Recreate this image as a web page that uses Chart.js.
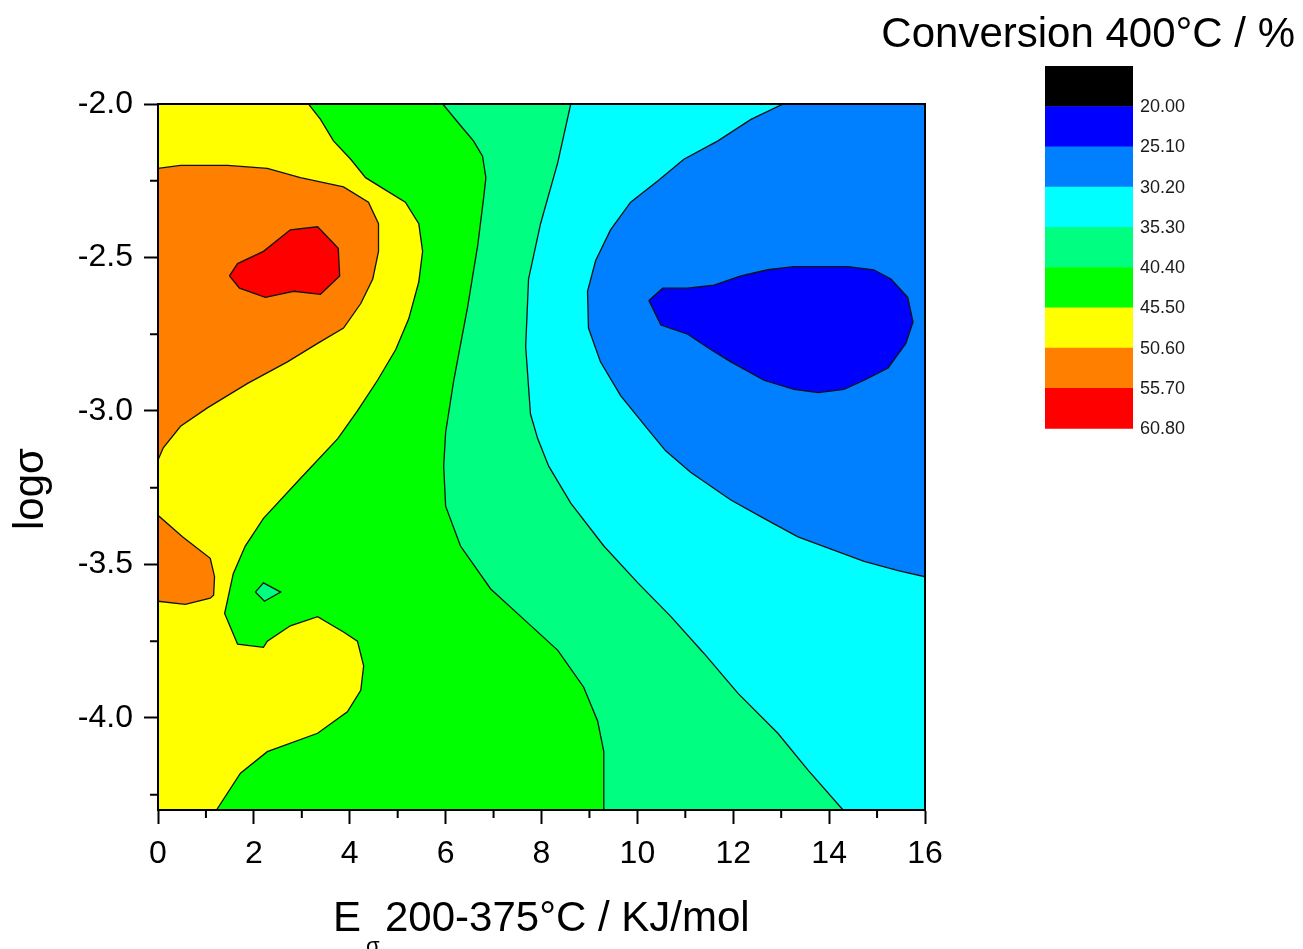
<!DOCTYPE html>
<html lang="en">
<head>
<meta charset="UTF-8">
<title>Conversion 400°C contour</title>
<style>
  body { margin: 0; padding: 0; background: #fff; }
  .chart-box { position: relative; width: 1303px; height: 949px; }
</style>
<script src="https://cdn.jsdelivr.net/npm/chart.js"></script>
</head>
<body>
<div class="chart-box"><canvas id="contourChart"></canvas></div>
<script>
// contour levels (conversion %) and colour of each band, lowest first
const levels = [20.00, 25.10, 30.20, 35.30, 40.40, 45.50, 50.60, 55.70, 60.80];
const bandColors = ['#000000', '#0000FF', '#0080FF', '#00FFFF', '#00FF80', '#00FF00', '#FFFF00', '#FF8000', '#FF0000'];

// axis ranges and ticks
const xRange = [0, 16];
const yRange = [-4.3, -2.0];
const xTicks = [0, 2, 4, 6, 8, 10, 12, 14, 16];
const xMinorTicks = [1, 3, 5, 7, 9, 11, 13, 15];
const yTicks = [-2.0, -2.5, -3.0, -3.5, -4.0];
const yMinorTicks = [-2.25, -2.75, -3.25, -3.75, -4.25];

// contour lines (x = E, y = log sigma)
// 25.1 % : closed island on the right
const c251X = [10.24, 10.53, 11.05, 11.60, 12.16, 12.72, 13.27, 13.83, 14.39, 14.93, 15.29, 15.64, 15.75, 15.60, 15.23, 14.73, 14.31, 13.77, 13.27, 12.64, 11.95, 11.53, 11.05, 10.49];
const c251Y = [-2.64, -2.60, -2.60, -2.59, -2.56, -2.54, -2.53, -2.53, -2.53, -2.54, -2.57, -2.63, -2.71, -2.78, -2.86, -2.90, -2.93, -2.94, -2.93, -2.90, -2.84, -2.80, -2.75, -2.72];
// 30.2 % : top edge -> right edge
const c302X = [13.04, 12.37, 11.68, 10.97, 10.43, 9.86, 9.44, 9.13, 8.96, 8.98, 9.23, 9.65, 10.22, 10.59, 11.11, 11.95, 12.64, 13.35, 14.04, 14.73, 15.44, 16.00];
const c302Y = [-2.00, -2.05, -2.12, -2.18, -2.25, -2.32, -2.41, -2.51, -2.61, -2.73, -2.84, -2.95, -3.06, -3.13, -3.20, -3.29, -3.35, -3.41, -3.45, -3.49, -3.52, -3.54];
// 35.3 % : top edge -> bottom edge
const c353X = [8.61, 8.34, 7.98, 7.73, 7.67, 7.77, 7.92, 8.15, 8.61, 9.30, 10.01, 10.70, 11.39, 12.10, 12.93, 13.56, 14.29];
const c353Y = [-2.00, -2.19, -2.39, -2.57, -2.79, -3.01, -3.09, -3.18, -3.30, -3.44, -3.56, -3.67, -3.79, -3.92, -4.05, -4.17, -4.30];
// 40.4 % : top edge -> bottom edge, plus a small island
const c404X = [5.94, 6.31, 6.58, 6.77, 6.84, 6.79, 6.67, 6.46, 6.17, 6.00, 5.96, 6.00, 6.31, 6.94, 7.57, 8.34, 8.88, 9.17, 9.30, 9.30];
const c404Y = [-2.00, -2.07, -2.12, -2.17, -2.24, -2.31, -2.46, -2.66, -2.90, -3.07, -3.18, -3.31, -3.44, -3.58, -3.67, -3.78, -3.90, -4.01, -4.11, -4.30];
const c404bX = [2.03, 2.20, 2.56, 2.22];
const c404bY = [-3.59, -3.56, -3.59, -3.62];
// 45.5 % : top edge -> bottom edge
const c455X = [3.14, 3.39, 3.66, 4.02, 4.33, 4.64, 5.16, 5.44, 5.52, 5.44, 5.23, 4.96, 4.58, 4.16, 3.75, 2.97, 2.20, 1.82, 1.57, 1.39, 1.66, 2.20, 2.28, 2.76, 3.33, 3.87, 4.16, 4.29, 4.23, 3.95, 3.33, 2.28, 1.72, 1.22];
const c455Y = [-2.00, -2.05, -2.12, -2.18, -2.24, -2.27, -2.32, -2.39, -2.48, -2.58, -2.70, -2.80, -2.90, -3.00, -3.09, -3.22, -3.35, -3.44, -3.53, -3.66, -3.76, -3.77, -3.75, -3.70, -3.67, -3.72, -3.75, -3.83, -3.91, -3.98, -4.05, -4.11, -4.18, -4.30];
// 50.6 % : two lobes on the left edge
const c506X = [0, 0.47, 1.45, 2.28, 2.97, 3.87, 4.39, 4.60, 4.60, 4.48, 4.23, 3.87, 3.33, 2.70, 1.87, 1.03, 0.47, 0.11, 0];
const c506Y = [-2.21, -2.20, -2.20, -2.21, -2.24, -2.27, -2.32, -2.39, -2.48, -2.57, -2.65, -2.73, -2.78, -2.84, -2.91, -2.99, -3.05, -3.12, -3.16];
const c506bX = [0, 0.51, 1.09, 1.18, 1.16, 1.09, 0.57, 0];
const c506bY = [-3.34, -3.41, -3.48, -3.54, -3.60, -3.61, -3.63, -3.62];
// 55.7 % : island
const c557X = [1.49, 1.66, 2.20, 2.76, 3.33, 3.76, 3.79, 3.39, 2.83, 2.24, 1.70];
const c557Y = [-2.56, -2.52, -2.48, -2.41, -2.40, -2.47, -2.56, -2.62, -2.61, -2.63, -2.60];

const fontName = "'Liberation Sans', Arial, sans-serif";

function toPoints(xs, ys) {
  return xs.map((x, i) => ({ x: x, y: ys[i] }));
}
function closed(pts) {
  return pts.concat([pts[0]]);
}
function region(pts, color, order, lineWidth) {
  return {
    data: pts,
    showLine: true,
    fill: 'shape',
    backgroundColor: color,
    borderColor: '#111',
    borderWidth: lineWidth,
    pointRadius: 0,
    pointHoverRadius: 0,
    tension: 0,
    order: order
  };
}

const cornerTL = { x: xRange[0], y: yRange[1] };
const cornerTR = { x: xRange[1], y: yRange[1] };
const cornerBR = { x: xRange[1], y: yRange[0] };
const cornerBL = { x: xRange[0], y: yRange[0] };

const datasets = [
  region([cornerTL, cornerTR, cornerBR, cornerBL], bandColors[5], 20, 0),
  region(toPoints(c404X, c404Y).concat([cornerBR, cornerTR]), bandColors[4], 19, 1.3),
  region(toPoints(c353X, c353Y).concat([cornerBR, cornerTR]), bandColors[3], 18, 1.3),
  region(toPoints(c302X, c302Y).concat([cornerTR]), bandColors[2], 17, 1.3),
  region(closed(toPoints(c251X, c251Y)), bandColors[1], 16, 1.3),
  region(toPoints(c455X, c455Y).concat([cornerBL, cornerTL]), bandColors[6], 15, 1.3),
  region(toPoints(c506X, c506Y), bandColors[7], 14, 1.3),
  region(toPoints(c506bX, c506bY), bandColors[7], 13, 1.3),
  region(closed(toPoints(c557X, c557Y)), bandColors[8], 12, 1.3),
  region(closed(toPoints(c404bX, c404bY)), bandColors[4], 11, 1.3)
];

// frame, minor ticks, axis titles, colour scale
const decorations = {
  id: 'decorations',
  afterDraw(chart) {
    const ctx = chart.ctx;
    const area = chart.chartArea;
    const xs = chart.scales.x;
    const ys = chart.scales.y;
    ctx.save();
    ctx.strokeStyle = '#000';
    ctx.lineWidth = 2;
    ctx.strokeRect(area.left, area.top, area.right - area.left, area.bottom - area.top);

    ctx.beginPath();
    xMinorTicks.forEach(v => {
      const px = xs.getPixelForValue(v);
      ctx.moveTo(px, area.bottom);
      ctx.lineTo(px, area.bottom + 8);
    });
    yMinorTicks.forEach(v => {
      const py = ys.getPixelForValue(v);
      ctx.moveTo(area.left, py);
      ctx.lineTo(area.left - 8, py);
    });
    ctx.stroke();

    ctx.fillStyle = '#000';
    ctx.textBaseline = 'alphabetic';
    ctx.textAlign = 'left';
    // x title with subscript sigma
    ctx.font = '42px ' + fontName;
    ctx.fillText('E', 333, 931);
    ctx.font = '22px ' + fontName;
    ctx.fillText('σ', 366, 953);
    ctx.font = '42px ' + fontName;
    ctx.fillText('200-375°C / KJ/mol', 385, 931);

    // y title
    ctx.save();
    ctx.translate(43, 530);
    ctx.rotate(-Math.PI / 2);
    ctx.fillText('logσ', 0, 0);
    ctx.restore();

    // colour scale title
    ctx.textAlign = 'right';
    ctx.fillText('Conversion 400°C / %', 1295, 47);

    // colour scale
    const boxLeft = 1045, boxTop = 66, boxW = 88, boxH = 40.25;
    ctx.font = '18px ' + fontName;
    ctx.textAlign = 'left';
    ctx.textBaseline = 'middle';
    bandColors.forEach((c, i) => {
      ctx.fillStyle = c;
      ctx.fillRect(boxLeft, boxTop + i * boxH, boxW, boxH + 0.5);
    });
    ctx.fillStyle = '#1a1a1a';
    levels.forEach((v, i) => {
      ctx.fillText(v.toFixed(2), boxLeft + 95, boxTop + (i + 1) * boxH + 1);
    });
    ctx.restore();
  }
};

const ctx = document.getElementById('contourChart').getContext('2d');
new Chart(ctx, {
  type: 'scatter',
  data: { datasets: datasets },
  options: {
    responsive: true,
    maintainAspectRatio: false,
    animation: false,
    events: [],
    layout: { padding: { left: 0, top: 104, right: 378, bottom: 0 } },
    plugins: {
      legend: { display: false },
      tooltip: { enabled: false }
    },
    scales: {
      x: {
        type: 'linear',
        min: xRange[0],
        max: xRange[1],
        afterBuildTicks: s => { s.ticks = xTicks.map(v => ({ value: v })); },
        afterFit: s => { s.height = 139; },
        grid: { display: true, drawOnChartArea: false, drawTicks: true, tickLength: 14, tickWidth: 2, tickColor: '#000' },
        border: { display: true, color: '#000', width: 2 },
        ticks: {
          color: '#000',
          padding: 11,
          maxRotation: 0,
          font: { family: fontName, size: 32 },
          callback: v => String(v)
        }
      },
      y: {
        type: 'linear',
        min: yRange[0],
        max: yRange[1],
        afterBuildTicks: s => { s.ticks = yTicks.map(v => ({ value: v })); },
        afterFit: s => { s.width = 158; },
        grid: { display: true, drawOnChartArea: false, drawTicks: true, tickLength: 14, tickWidth: 2, tickColor: '#000' },
        border: { display: true, color: '#000', width: 2 },
        ticks: {
          color: '#000',
          padding: 11,
          font: { family: fontName, size: 32 },
          callback: v => Number(v).toFixed(1)
        }
      }
    }
  },
  plugins: [decorations]
});
</script>
</body>
</html>
